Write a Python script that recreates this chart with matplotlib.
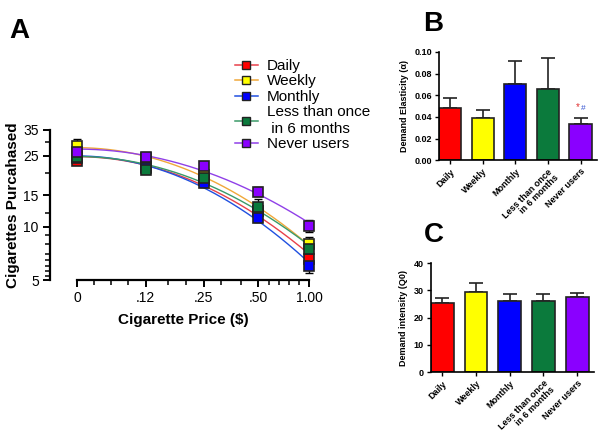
import numpy as np
import matplotlib.pyplot as plt
from matplotlib.ticker import FixedLocator, NullFormatter

plt.rcParams['font.family'] = ['Liberation Sans', 'DejaVu Sans']

# Data
groups = ['Daily', 'Weekly', 'Monthly', 'Less than once\n in 6 months', 'Never users']
bar_labels = ['Daily', 'Weekly', 'Monthly', 'Less than once\nin 6 months', 'Never users']
colors = ['#ff0000', '#ffff00', '#0000ff', '#0b7a3c', '#8a00ff']
line_colors = ['#e8404a', '#f0a83a', '#2050e0', '#3a9a68', '#9040e8']

prices = [0, 0.12, 0.25, 0.50, 1.00]
price_labels = ['0', '.12', '.25', '.50', '1.00']
price_pos = [0, 0.296, 0.545, 0.781, 1.0]   # axis spacing used by the original

purchased = {
    'Daily':   [23.5, 21.6, 18.3, 12.2, 6.6],
    'Weekly':  [28.5, 24.2, 19.6, 12.3, 8.0],
    'Monthly': [24.3, 21.4, 17.6, 11.2, 6.0],
    'Less':    [24.8, 20.9, 18.8, 12.9, 7.5],
    'Never':   [26.3, 24.6, 21.9, 15.7, 10.1],
}
purchased_err = {
    'Daily':   [0.8, 0.8, 0.7, 0.6, 0.5],
    'Weekly':  [2.8, 1.2, 1.0, 0.8, 0.7],
    'Monthly': [0.9, 0.9, 0.8, 0.6, 0.5],
    'Less':    [1.0, 0.9, 0.8, 1.4, 0.6],
    'Never':   [1.2, 0.9, 1.2, 0.9, 0.8],
}

elasticity = [0.048, 0.039, 0.070, 0.066, 0.033]
elasticity_err = [0.0095, 0.0072, 0.022, 0.028, 0.006]

intensity = [25.5, 29.5, 26.2, 26.2, 27.5]
intensity_err = [1.7, 3.3, 2.3, 2.5, 1.7]

# Figure
fig = plt.figure(figsize=(6.05, 4.40), dpi=100)

# ---------------- Panel A ----------------
ext_p = [-1.0] + prices + [2.0]
ext_x = [-1.0] + price_pos + [2.0]
fwd = lambda p: np.interp(p, ext_p, ext_x)
inv = lambda x: np.interp(x, ext_x, ext_p)

axA = fig.add_axes([0.0826, 0.3636, 0.44, 0.341])
axA.set_xscale('function', functions=(fwd, inv))
axA.set_yscale('log')

# fitted curves: log(Q) = a + b * x^2 in the displayed axis space
x_fine = np.linspace(0, 1, 200)
for key, c, lc in zip(purchased, colors, line_colors):
    y = np.array(purchased[key])
    xp = fwd(np.array(prices))
    b, a = np.polyfit(xp ** 2, np.log10(y), 1)
    axA.plot(inv(x_fine), 10 ** (a + b * x_fine ** 2), color=lc, lw=1.0, zorder=2)
    axA.errorbar(prices, y, yerr=purchased_err[key], fmt='none', ecolor='black',
                 elinewidth=1, capsize=3, zorder=3, clip_on=False)
    axA.plot(prices, y, 's', color=c, mec='#222222', mew=1.2, ms=7, zorder=4, clip_on=False)

axA.set_xlim(inv(-0.116), inv(1.03))
axA.set_ylim(5, 35)
axA.set_xticks(prices)
axA.set_xticklabels(price_labels, fontsize=10)
axA.xaxis.set_minor_locator(FixedLocator([0.03, 0.06, 0.09, 0.17, 0.21, 0.33, 0.42,
                                          0.6, 0.7, 0.8, 0.9]))
axA.xaxis.set_minor_formatter(NullFormatter())
axA.set_yticks([5, 10, 15, 25, 35])
axA.set_yticklabels(['5', '10', '15', '25', '35'], fontsize=10)
axA.yaxis.set_minor_locator(FixedLocator([5.3, 5.6, 6, 6.5, 7, 8, 9, 12, 20, 30]))
axA.yaxis.set_minor_formatter(NullFormatter())
axA.spines[['top', 'right']].set_visible(False)
axA.spines['bottom'].set_bounds(0, 1.0)
axA.spines['bottom'].set_linewidth(1.6)
axA.spines['left'].set_linewidth(1.6)
axA.tick_params(which='major', length=5, width=1.4, pad=3)
axA.tick_params(which='minor', length=3.5, width=1.1)
axA.set_xlabel('Cigarette Price ($)', fontsize=11, fontweight='bold', labelpad=6)
axA.set_ylabel('Cigarettes Purcahased', fontsize=11, fontweight='bold', labelpad=2)

handles = [plt.Line2D([], [], color=lc, lw=1.1, marker='s', mfc=c, mec='#222222',
                      mew=1.0, ms=6) for c, lc in zip(colors, line_colors)]
fig.legend(handles, groups, loc='upper left', bbox_to_anchor=(0.378, 0.88),
           frameon=False, fontsize=11, handlelength=1.5, handletextpad=0.6,
           labelspacing=0.1, borderaxespad=0)

fig.text(0.015, 0.96, 'A', fontsize=20, fontweight='bold', va='top')

# ---------------- Bar panels ----------------
def bar_panel(ax, vals, errs, ylim, yticks, fmt, ylabel):
    x = np.arange(len(vals))
    ax.bar(x, vals, width=0.68, color=colors, edgecolor='#222222', linewidth=1.2, zorder=2)
    ax.errorbar(x, vals, yerr=[np.zeros(len(errs)), errs], fmt='none', ecolor='#222222',
                elinewidth=1.2, capsize=5, capthick=1.2, zorder=1)
    ax.set_xlim(-0.34, 4.5)
    ax.set_ylim(*ylim)
    ax.set_yticks(yticks)
    ax.set_yticklabels([fmt.format(t) for t in yticks], fontsize=6.5, fontweight='bold')
    ax.set_xticks(x)
    ax.set_xticklabels(bar_labels, rotation=45, ha='right', rotation_mode='anchor',
                       fontsize=6.5, fontweight='bold', linespacing=0.95)
    ax.spines[['top', 'right']].set_visible(False)
    ax.spines['left'].set_linewidth(1.2)
    ax.spines['bottom'].set_linewidth(1.2)
    ax.tick_params(length=3, width=1.0, pad=2)
    ax.set_ylabel(ylabel, fontsize=6.5, fontweight='bold', labelpad=4)

axB = fig.add_axes([0.7256, 0.636, 0.261, 0.246])
bar_panel(axB, elasticity, elasticity_err, (0, 0.10), [0, 0.02, 0.04, 0.06, 0.08, 0.10],
          '{:.2f}', 'Demand Elasticity (\u03b1)')
axB.text(3.9, 0.0445, '*', color='#e03030', fontsize=7, ha='center', va='bottom')
axB.text(4.07, 0.0445, '#', color='#3050d0', fontsize=6, ha='center', va='bottom')
fig.text(0.70, 0.975, 'B', fontsize=20, fontweight='bold', va='top')

axC = fig.add_axes([0.712, 0.1545, 0.27, 0.2475])
bar_panel(axC, intensity, intensity_err, (0, 40), [0, 10, 20, 30, 40],
          '{:d}', 'Demand intensity (Q0)')
fig.text(0.70, 0.495, 'C', fontsize=20, fontweight='bold', va='top')

fig.savefig('out.png', dpi=100)
